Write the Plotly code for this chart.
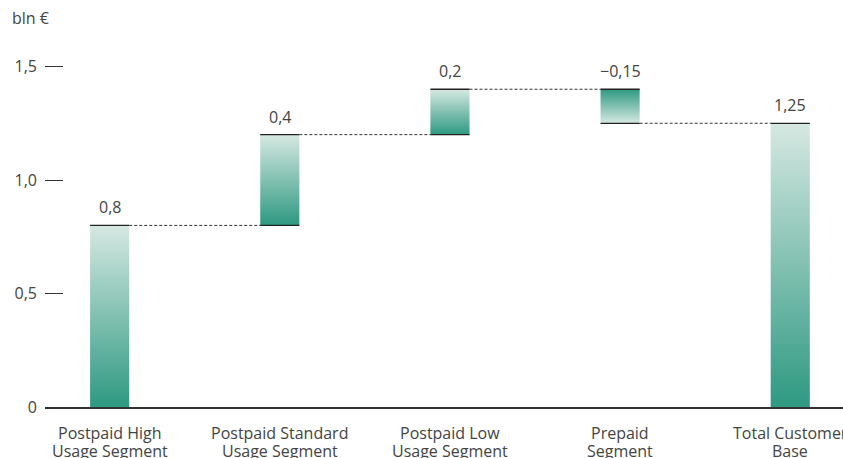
import plotly.graph_objects as go

categories = ["Postpaid High\nUsage Segment", "Postpaid Standard\nUsage Segment",
              "Postpaid Low\nUsage Segment", "Prepaid\nSegment", "Total Customer\nBase"]
values = [0.8, 0.4, 0.2, -0.15, 1.25]
is_total = [False, False, False, False, True]
value_labels = ["0,8", "0,4", "0,2", "\u22120,15", "1,25"]
y_tickvals = [0, 0.5, 1.0, 1.5]
y_ticktext = ["0", "0,5", "1,0", "1,5"]

DARK = "#2e9981"
LIGHT = "#d6e8e2"
EDGE = "#222222"
FONT = "Open Sans"
TXT = "#444444"
FS = 16
BW = 0.23

fig = go.Figure()

bases, tops = [], []
cum = 0.0
for v, t in zip(values, is_total):
    if t:
        b, e = 0.0, v
        cum = v
    else:
        b, e = cum, cum + v
        cum = e
    bases.append(b)
    tops.append(e)

for i, (b, e) in enumerate(zip(bases, tops)):
    lo, hi = min(b, e), max(b, e)
    x0, x1 = i - BW / 2, i + BW / 2
    cs = [[0, DARK], [1, LIGHT]] if e >= b else [[0, LIGHT], [1, DARK]]
    fig.add_trace(go.Scatter(
        x=[x0, x1, x1, x0, x0], y=[lo, lo, hi, hi, lo],
        mode="lines", fill="toself", line=dict(width=0),
        fillgradient=dict(type="vertical", colorscale=cs, start=lo, stop=hi),
        hoverinfo="skip", showlegend=False))
    for yv in (lo, hi):
        if yv == 0:
            continue
        fig.add_trace(go.Scatter(x=[x0, x1], y=[yv, yv], mode="lines",
                                 line=dict(color=EDGE, width=1.3),
                                 hoverinfo="skip", showlegend=False))
    fig.add_annotation(x=i, y=hi, text=value_labels[i], showarrow=False,
                       yanchor="bottom", yshift=5,
                       font=dict(family=FONT, size=FS, color=TXT))

for i in range(len(values) - 1):
    level = tops[i]
    fig.add_trace(go.Scatter(x=[i + BW / 2, i + 1 - BW / 2], y=[level, level],
                             mode="lines",
                             line=dict(color="#333333", width=1, dash="3px,2px"),
                             hoverinfo="skip", showlegend=False))

# category labels (two lines, tight line spacing)
for i, cat in enumerate(categories):
    for j, line in enumerate(cat.split("\n")):
        fig.add_annotation(x=i, y=0, text=line, showarrow=False,
                           yanchor="middle", yshift=-26 - 18 * j,
                           font=dict(family=FONT, size=FS, color=TXT))

fig.add_annotation(x=-0.044, y=1.0, xref="paper", yref="paper", yshift=44,
                   text="bln \u20ac", showarrow=False, xanchor="left", yanchor="middle",
                   font=dict(family=FONT, size=FS, color=TXT))

fig.update_layout(
    width=843, height=458,
    margin=dict(l=45, r=0, t=62, b=51),
    paper_bgcolor="white", plot_bgcolor="white",
    font=dict(family=FONT, size=FS, color=TXT),
    xaxis=dict(range=[-0.38, 4.31], tickvals=list(range(len(categories))),
               showticklabels=False, showgrid=False, zeroline=False,
               showline=True, linecolor="#333333", linewidth=1.5,
               ticks="", fixedrange=True),
    yaxis=dict(range=[0, 1.52], tickvals=y_tickvals, ticktext=y_ticktext,
               showgrid=False, zeroline=False, showline=False,
               ticks="inside", ticklen=18, tickcolor="#333333", tickwidth=1,
               ticklabelstandoff=7, fixedrange=True),
)

fig.write_html("out.html")
